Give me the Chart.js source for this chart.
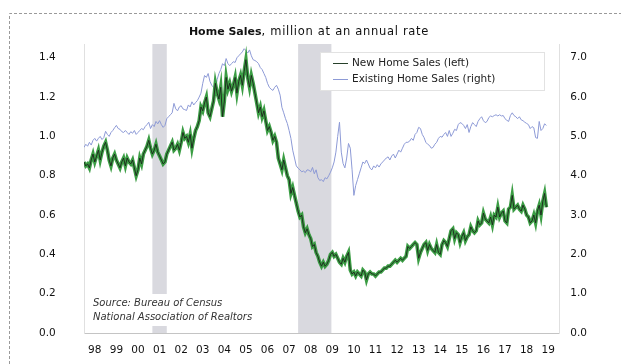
<!DOCTYPE html>
<html>
<head>
<meta charset="utf-8">
<script src="https://cdn.jsdelivr.net/npm/chart.js@4"></script>
<style>
  html, body { margin: 0; padding: 0; background: #fff; }
</style>
</head>
<body>
<canvas id="homeSales" width="621" height="364"></canvas>
<script>
// Monthly series, Jan 1998 onward (million units, SAAR)
const yearLabels = ['98', '99', '00', '01', '02', '03', '04', '05', '06', '07', '08',
  '09', '10', '11', '12', '13', '14', '15', '16', '17', '18', '19'];

const newHomeSales = [
  0.87, 0.85, 0.86, 0.84, 0.88, 0.91, 0.87, 0.90, 0.93, 0.88, 0.92, 0.95,
  0.97, 0.93, 0.88, 0.85, 0.89, 0.91, 0.88, 0.86, 0.84, 0.87, 0.89, 0.85,
  0.89, 0.87, 0.86, 0.88, 0.84, 0.80, 0.83, 0.89, 0.86, 0.91, 0.93, 0.95,
  0.98, 0.94, 0.91, 0.93, 0.96, 0.92, 0.90, 0.88, 0.86, 0.87, 0.91, 0.93,
  0.95, 0.97, 0.93, 0.94, 0.96, 0.93, 0.97, 1.02, 0.99, 1.00, 0.97, 1.01,
  0.94, 0.99, 1.03, 1.05, 1.08, 1.15, 1.13, 1.17, 1.20, 1.12, 1.10, 1.14,
  1.18, 1.27, 1.22, 1.19, 1.25, 1.10, 1.18, 1.30, 1.24, 1.27, 1.23, 1.26,
  1.30, 1.22, 1.28, 1.31, 1.26, 1.33, 1.39, 1.30, 1.25, 1.31, 1.27, 1.22,
  1.17, 1.12, 1.15, 1.10, 1.13, 1.08, 1.03, 1.05, 1.02, 0.98, 1.00, 0.97,
  0.89, 0.86, 0.83, 0.88, 0.84, 0.80, 0.78, 0.71, 0.74, 0.70, 0.66, 0.62,
  0.59, 0.60, 0.54, 0.51, 0.53, 0.50, 0.48, 0.44, 0.45, 0.41, 0.39, 0.36,
  0.34, 0.36, 0.34, 0.35, 0.37, 0.40, 0.41, 0.39, 0.40, 0.38, 0.36, 0.35,
  0.38, 0.36, 0.39, 0.41, 0.32, 0.30, 0.31, 0.29, 0.31, 0.30, 0.29, 0.32,
  0.31, 0.27, 0.30, 0.31, 0.30, 0.30, 0.29, 0.30, 0.31, 0.31, 0.32, 0.33,
  0.33, 0.34, 0.34, 0.35, 0.36, 0.37, 0.36, 0.37, 0.38, 0.37, 0.38, 0.39,
  0.44, 0.43, 0.44, 0.45, 0.46, 0.45, 0.38, 0.41, 0.43, 0.45, 0.46, 0.42,
  0.45, 0.43, 0.42, 0.41, 0.45, 0.41, 0.40, 0.45, 0.47, 0.46, 0.44, 0.48,
  0.52, 0.53, 0.48, 0.51, 0.50, 0.46, 0.49, 0.51, 0.47, 0.49, 0.50, 0.54,
  0.52, 0.51, 0.52, 0.57, 0.55, 0.56, 0.61, 0.58, 0.57, 0.56, 0.59, 0.55,
  0.60, 0.59, 0.64, 0.59, 0.61, 0.62, 0.57, 0.56, 0.63, 0.64, 0.70, 0.63,
  0.64, 0.65, 0.63, 0.62, 0.65, 0.63, 0.60, 0.59, 0.56, 0.57, 0.60, 0.56,
  0.62, 0.65, 0.60, 0.67, 0.71, 0.64
];

const existingHomeSales = [
  4.72, 4.80, 4.75, 4.85, 4.78, 4.90, 4.95, 4.88, 4.95, 5.00, 4.92, 4.97,
  5.13, 5.05, 5.00, 5.10, 5.15, 5.22, 5.28, 5.20, 5.18, 5.12, 5.10, 5.15,
  5.10, 5.05, 5.12, 5.08, 5.15, 5.05, 5.10, 5.15, 5.20, 5.17, 5.25, 5.30,
  5.36, 5.20, 5.30, 5.25, 5.38, 5.32, 5.40, 5.30, 5.23, 5.28, 5.45, 5.50,
  5.55, 5.60, 5.84, 5.70, 5.65, 5.75, 5.78, 5.70, 5.68, 5.66, 5.80, 5.75,
  5.88, 5.80, 5.86, 5.91, 6.00, 6.10, 6.35, 6.55, 6.50, 6.60, 6.40, 6.30,
  6.25, 6.17, 6.45, 6.60, 6.70, 6.85, 6.80, 6.98, 6.85, 6.80, 6.85, 6.90,
  6.88, 7.00, 7.05, 7.10, 7.15, 7.23, 7.18, 7.12, 7.20, 7.05, 6.95, 6.93,
  6.90, 6.85, 6.75, 6.70, 6.60, 6.50, 6.35, 6.25, 6.20, 6.17, 6.25, 6.30,
  6.20, 6.05, 5.74, 5.60, 5.45, 5.33, 5.15, 4.95, 4.65, 4.45, 4.25, 4.19,
  4.15, 4.10, 4.12, 4.08, 4.15, 4.14, 4.10, 4.21, 4.05, 4.15, 3.95, 3.88,
  3.90, 3.85, 3.95, 3.92, 4.00, 4.09, 4.20, 4.35, 4.60, 5.00, 5.36, 4.60,
  4.31, 4.20, 4.45, 4.82, 4.70, 4.15, 3.50, 3.75, 3.90, 4.05, 4.20, 4.35,
  4.31, 4.40, 4.30, 4.19, 4.15, 4.25, 4.20, 4.28, 4.22, 4.30, 4.35, 4.40,
  4.45, 4.48, 4.40, 4.50, 4.55, 4.45, 4.55, 4.65, 4.60, 4.70, 4.80, 4.85,
  4.85, 4.88, 4.95, 4.90, 5.05, 5.10, 5.23, 5.20, 5.05, 4.97, 4.85, 4.80,
  4.77, 4.70, 4.72, 4.80, 4.85, 4.95, 5.00, 4.98, 5.05, 5.10, 5.00, 5.15,
  5.00, 5.08, 5.18, 5.15, 5.30, 5.35, 5.33, 5.28, 5.20, 5.30, 5.10, 5.25,
  5.35, 5.30, 5.25, 5.38, 5.45, 5.50, 5.40, 5.35, 5.38, 5.48, 5.52, 5.50,
  5.53, 5.55, 5.52, 5.55, 5.52, 5.53, 5.45, 5.41, 5.38, 5.53, 5.60, 5.53,
  5.50, 5.45, 5.50, 5.42, 5.40, 5.36, 5.33, 5.30, 5.20, 5.25, 5.22, 4.97,
  4.95, 5.38, 5.15, 5.20, 5.32, 5.28
];

// recessions as [start, end] month index counted from Jan 1998
const recessions = [[38, 46], [119, 137.5]];

const leftTicks = [0, 0.2, 0.4, 0.6, 0.8, 1.0, 1.2, 1.4];
const rightTicks = [0, 1, 2, 3, 4, 5, 6, 7];

const FONT = 'DejaVu Sans';
const toPoints = arr => arr.map((v, i) => ({ x: i, y: v }));

// grey bars for recessions, plus the white source note over them
const shading = {
  id: 'shading',
  beforeDatasetsDraw(chart) {
    const { ctx, chartArea, scales } = chart;
    ctx.save();
    ctx.fillStyle = '#d9d9df';
    recessions.forEach(([a, b]) => {
      const x0 = scales.x.getPixelForValue(a);
      const x1 = scales.x.getPixelForValue(b);
      ctx.fillRect(x0, chartArea.top, x1 - x0, chartArea.bottom - chartArea.top);
    });
    // source note
    ctx.fillStyle = '#fff';
    ctx.fillRect(chartArea.left + 6, 294, 208, 32);
    ctx.fillStyle = '#333';
    ctx.font = 'italic 10px ' + FONT;
    ctx.textBaseline = 'middle';
    ctx.fillText('Source: Bureau of Census', chartArea.left + 9, 303);
    ctx.fillText('National Association of Realtors', chartArea.left + 9, 317);
    ctx.restore();
  }
};

const decorations = {
  id: 'decorations',
  beforeDraw(chart) {
    const { ctx } = chart;
    ctx.save();
    ctx.strokeStyle = '#9a9a9a';
    ctx.lineWidth = 1;
    ctx.setLineDash([3, 2]);
    ctx.beginPath();
    ctx.moveTo(9.5, 364);
    ctx.lineTo(9.5, 13.5);
    ctx.lineTo(621, 13.5);
    ctx.stroke();
    ctx.restore();
  },
  afterDraw(chart) {
    const { ctx } = chart;
    ctx.save();
    // title: bold lead-in, then the units in a lighter face
    const bold = 'bold 11px ' + FONT;
    const normal = '11.5px ' + FONT;
    const t1 = 'Home Sales', t2 = ', million at an annual rate';
    ctx.textBaseline = 'middle';
    ctx.fillStyle = '#111';
    ctx.font = bold;
    const w1 = ctx.measureText(t1).width;
    ctx.font = normal;
    ctx.letterSpacing = '0.7px';
    const w2 = ctx.measureText(t2).width;
    const x = 309 - (w1 + w2) / 2;
    ctx.fillText(t2, x + w1, 32);
    ctx.letterSpacing = '0px';
    ctx.font = bold;
    ctx.fillText(t1, x, 32);

    // legend
    ctx.fillStyle = '#fff';
    ctx.strokeStyle = '#e2e2e2';
    ctx.lineWidth = 1;
    ctx.fillRect(320.5, 52.5, 224, 38);
    ctx.strokeRect(320.5, 52.5, 224, 38);
    const items = [
      { text: 'New Home Sales (left)', color: '#27402a', y: 63 },
      { text: 'Existing Home Sales (right)', color: '#8d9ad6', y: 79 }
    ];
    ctx.font = '10.5px ' + FONT;
    items.forEach(it => {
      ctx.strokeStyle = it.color;
      ctx.beginPath();
      ctx.moveTo(333, it.y + 0.5);
      ctx.lineTo(348, it.y + 0.5);
      ctx.stroke();
      ctx.fillStyle = '#222';
      ctx.fillText(it.text, 352, it.y);
    });
    ctx.restore();
  }
};

const tickFont = { family: FONT, size: 10.5 };

new Chart(document.getElementById('homeSales'), {
  type: 'line',
  data: {
    datasets: [
      {
        label: 'New Home Sales (left)',
        data: toPoints(newHomeSales),
        yAxisID: 'yLeft',
        borderColor: '#1c241c',
        borderWidth: 0.9,
        order: 1
      },
      {
        label: 'New Home Sales highlight',
        data: toPoints(newHomeSales),
        yAxisID: 'yLeft',
        borderColor: 'rgba(48,152,58,0.95)',
        borderWidth: 3.6,
        order: 2
      },
      {
        label: 'Existing Home Sales (right)',
        data: toPoints(existingHomeSales),
        yAxisID: 'yRight',
        borderColor: '#8d9ad6',
        borderWidth: 1,
        order: 3
      }
    ]
  },
  options: {
    responsive: false,
    animation: false,
    devicePixelRatio: 1,
    layout: { padding: { top: 44, left: 39, right: 34, bottom: 0 } },
    elements: { point: { radius: 0 }, line: { tension: 0 } },
    plugins: { legend: { display: false }, tooltip: { enabled: false } },
    scales: {
      x: {
        type: 'linear',
        min: 0,
        max: 264,
        grid: { display: false, drawTicks: false },
        border: { display: true, color: '#c4c4c4', dash: [1, 3] },
        afterBuildTicks: s => { s.ticks = yearLabels.map((_, k) => ({ value: 6 + 12 * k })); },
        afterFit: s => { s.height = 31; },
        ticks: {
          autoSkip: false,
          maxRotation: 0,
          padding: 11,
          color: '#111',
          font: tickFont,
          callback: v => yearLabels[(v - 6) / 12]
        }
      },
      yLeft: {
        position: 'left',
        min: 0,
        max: 1.47,
        grid: { display: false, drawTicks: false },
        border: { display: true, color: '#e0e0e0', dash: [1, 4] },
        afterBuildTicks: s => { s.ticks = leftTicks.map(v => ({ value: v })); },
        afterFit: s => { s.width = 45; },
        ticks: { padding: 0, crossAlign: 'far', color: '#111', font: tickFont, callback: v => v.toFixed(1) }
      },
      yRight: {
        position: 'right',
        min: 0,
        max: 7.35,
        grid: { display: false, drawTicks: false },
        border: { display: true, color: '#e0e0e0', dash: [1, 4] },
        afterBuildTicks: s => { s.ticks = rightTicks.map(v => ({ value: v })); },
        afterFit: s => { s.width = 28; },
        ticks: { padding: 0, crossAlign: 'far', color: '#111', font: tickFont, callback: v => v.toFixed(1) }
      }
    }
  },
  plugins: [shading, decorations]
});
</script>
</body>
</html>
